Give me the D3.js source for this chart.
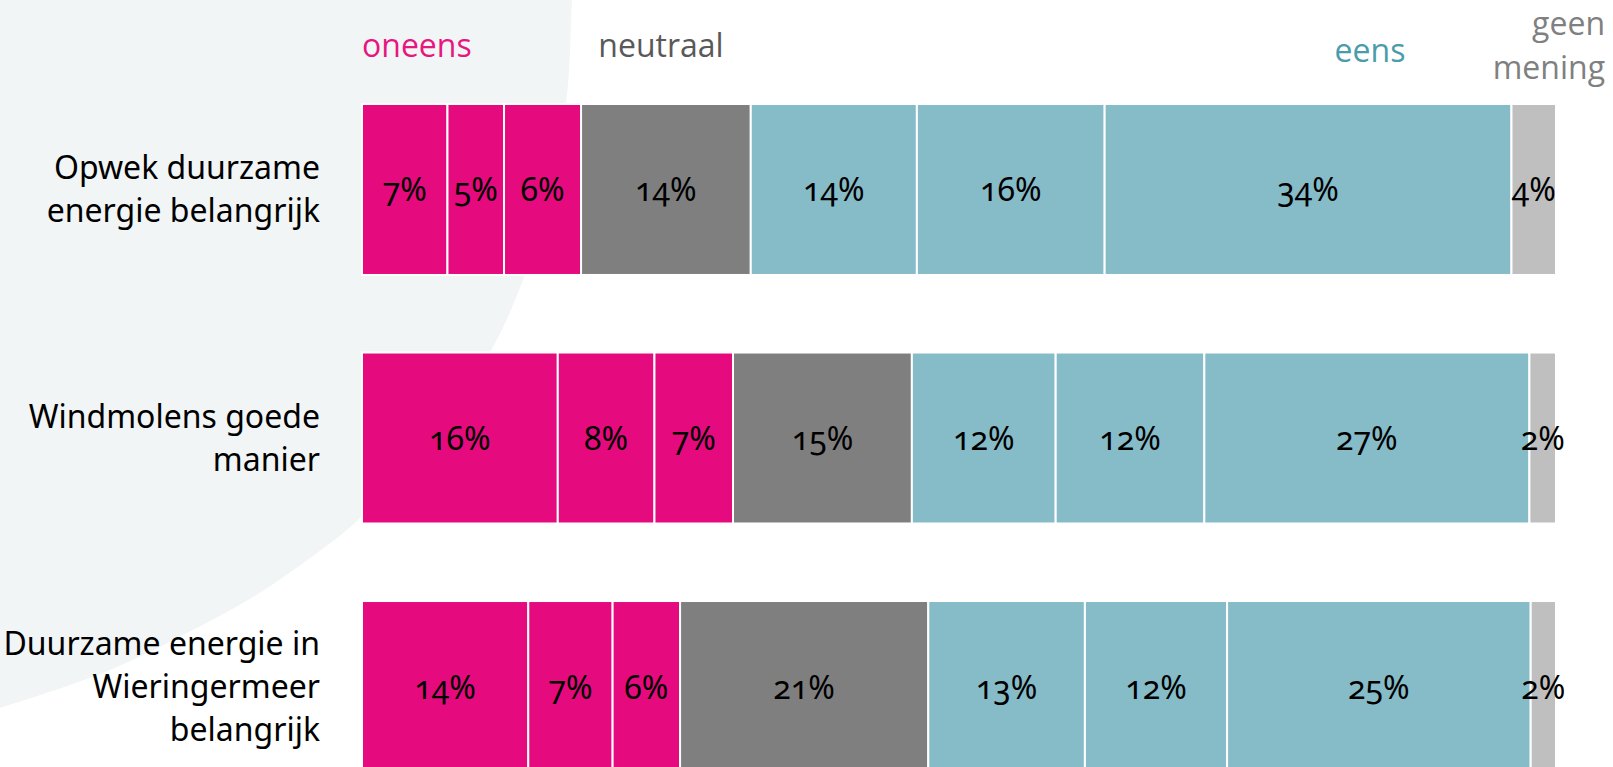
<!DOCTYPE html>
<html>
<head>
<meta charset="utf-8">
<script src="https://cdn.jsdelivr.net/npm/d3@7"></script>
<style>
    html, body { margin: 0; padding: 0; background: #fff; overflow: hidden; }
    .cat { font-family: "Noto Sans", sans-serif; font-size: 32px; fill: #000; }
    .pct { font-family: "Noto Sans", sans-serif; font-size: 32px; fill: #000; font-variant-numeric: oldstyle-nums; }
    .head { font-family: "Open Sans", sans-serif; font-size: 32px; }
</style>
</head>
<body>
<script>

// data (percentages)
const categories = [
    ["Opwek duurzame", "energie belangrijk"],
    ["Windmolens goede", "manier"],
    ["Duurzame energie in", "Wieringermeer", "belangrijk"]
];
const zeer_oneens = [7.1, 16.2, 13.8];
const oneens = [4.7, 8.0, 7.0];
const beetje_oneens = [6.4, 6.5, 5.6];
const neutraal = [14.1, 14.8, 20.6];
const beetje_eens = [13.8, 11.9, 13.0];
const eens = [15.6, 12.3, 11.8];
const zeer_eens = [33.8, 26.9, 25.2];
const geen_mening = [3.7, 2.2, 2.1];

const series_keys = ["zeer_oneens", "oneens", "beetje_oneens", "neutraal", "beetje_eens", "eens", "zeer_eens", "geen_mening"];
const series_values = [zeer_oneens, oneens, beetje_oneens, neutraal, beetje_eens, eens, zeer_eens, geen_mening];
const series_colors = ["#E50B7E", "#E50B7E", "#E50B7E", "#7F7F7F", "#86BCC8", "#86BCC8", "#86BCC8", "#BFBFBF"];

const header_labels = [
    {lines: ["oneens"], color: "#E6177F"},
    {lines: ["neutraal"], color: "#595959"},
    {lines: ["eens"], color: "#4A9CAB"},
    {lines: ["geen", "mening"], color: "#808080"}
];

// setup
const WIDTH = 1613;
const HEIGHT = 767;
const LINE_HEIGHT = 43;

const svg = d3.select("body")
    .append("svg")
    .attr("width", WIDTH)
    .attr("height", HEIGHT);

// decorative background shape (big soft disc at the top left)
const backdrop_edge = [
    [574, -30], [572, 0], [566, 104], [540, 230], [525, 275], [493, 347],
    [430, 440], [358, 520], [317, 553], [253, 597], [187, 633], [110, 670],
    [0, 708], [-60, 725]
];
svg.append("path")
    .attr("d", d3.line().curve(d3.curveCatmullRom)(backdrop_edge) + "L-100,725L-100,-40Z")
    .attr("fill", "#F2F5F6");

const table = categories.map((c, i) => {
    const row = {key: i};
    series_keys.forEach((k, j) => row[k] = series_values[j][i]);
    return row;
});

const stacked = d3.stack()
    .keys(series_keys)
    .offset(d3.stackOffsetExpand)
    (table);

const x = d3.scaleLinear().domain([0, 1]).range([362, 1556]);
const y = d3.scaleBand()
    .domain(d3.range(categories.length))
    .range([104, 772])
    .paddingInner(0.312)
    .paddingOuter(0);

const color = d3.scaleOrdinal().domain(series_keys).range(series_colors);

const layers = svg.append("g").attr("class", "Bars")
    .selectAll("g")
    .data(stacked)
    .join("g")
    .attr("fill", d => color(d.key));

layers.selectAll("rect")
    .data(d => d)
    .join("rect")
    .attr("x", d => x(d[0]))
    .attr("y", d => y(d.data.key))
    .attr("width", d => x(d[1]) - x(d[0]))
    .attr("height", y.bandwidth())
    .attr("stroke", "#fff")
    .attr("stroke-width", 2);

// percentage labels
layers.selectAll("text")
    .data((d, i) => d.map((s, r) => ({s, v: series_values[i][r]})))
    .join("text")
    .attr("class", "pct")
    .attr("text-anchor", "middle")
    .attr("x", d => (x(d.s[0]) + x(d.s[1])) / 2)
    .attr("y", d => y(d.s.data.key) + y.bandwidth() / 2 + 12)
    .text(d => Math.round(d.v) + "%");

// category labels
const cat_labels = svg.append("g").attr("class", "Labels")
    .selectAll("text")
    .data(categories)
    .join("text")
    .attr("class", "cat")
    .attr("text-anchor", "end");

cat_labels.selectAll("tspan")
    .data((d, i) => d.map((line, j) => ({line, j, n: d.length, row: i})))
    .join("tspan")
    .attr("x", 320)
    .attr("y", d => y(d.row) + y.bandwidth() / 2 + (d.j - (d.n - 1) / 2) * LINE_HEIGHT + 11)
    .text(d => d.line);

// header labels
const header_pos = [
    {x: 362, y: 57, anchor: "start"},
    {x: 661, y: 57, anchor: "middle"},
    {x: 1370, y: 62, anchor: "middle"},
    {x: 1605, y: 35, anchor: "end"}
];

const heads = svg.append("g").attr("class", "Headers")
    .selectAll("text")
    .data(header_labels)
    .join("text")
    .attr("class", "head")
    .attr("fill", d => d.color)
    .attr("text-anchor", (d, i) => header_pos[i].anchor);

heads.selectAll("tspan")
    .data((d, i) => d.lines.map((line, j) => ({line, j, i})))
    .join("tspan")
    .attr("x", d => header_pos[d.i].x)
    .attr("y", d => header_pos[d.i].y + d.j * 44)
    .text(d => d.line);

</script>
</body>
</html>
